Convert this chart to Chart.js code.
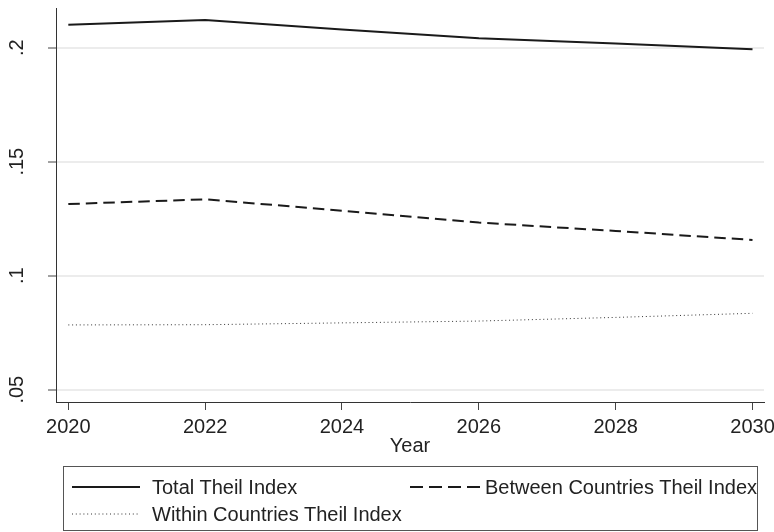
<!DOCTYPE html>
<html>
<head>
<meta charset="utf-8">
<script src="https://cdn.jsdelivr.net/npm/chart.js@4.4.1/dist/chart.umd.min.js"></script>
<style>
  body { margin: 0; background: #fff; }
  #wrap { position: relative; width: 774px; height: 532px; }
  #theil-legend {
    position: absolute; left: 63px; top: 466px; width: 695px; height: 65px;
    border: 1px solid #555; box-sizing: border-box;
    font-family: "Liberation Sans", Arial, sans-serif; font-size: 20px; color: #222;
  }
  .legend-item { position: absolute; display: flex; align-items: center; height: 24px; white-space: nowrap; }
  .legend-item svg { display: block; }
</style>
</head>
<body>
<div id="wrap">
  <canvas id="theil-chart" width="774" height="532"></canvas>
  <div id="theil-legend"></div>
</div>
<script>
const years = [2020, 2022, 2024, 2026, 2028, 2030];
const totalTheil = [0.2101, 0.2121, 0.2080, 0.2041, 0.2018, 0.1993];
const betweenTheil = [0.1314, 0.1335, 0.1285, 0.1233, 0.1196, 0.1157];
const withinTheil = [0.0784, 0.0785, 0.0793, 0.0801, 0.0817, 0.0835];
const seriesLabels = ['Total Theil Index', 'Between Countries Theil Index', 'Within Countries Theil Index'];

const FONT = '"Liberation Sans", Arial, sans-serif';
const INK = '#222';

const toPoints = (vals) => vals.map((v, i) => ({ x: years[i], y: v }));

const ctx = document.getElementById('theil-chart').getContext('2d');

const theilChart = new Chart(ctx, {
    type: 'line',
    data: {
        datasets: [
            { label: seriesLabels[0], data: toPoints(totalTheil), borderColor: '#1a1a1a', borderWidth: 2, borderDash: [] },
            { label: seriesLabels[1], data: toPoints(betweenTheil), borderColor: '#1a1a1a', borderWidth: 2, borderDash: [11.5, 6] },
            { label: seriesLabels[2], data: toPoints(withinTheil), borderColor: '#333', borderWidth: 1, borderDash: [1, 2.8] }
        ]
    },
    options: {
        responsive: false,
        animation: false,
        layout: { padding: { top: 8, right: 10, bottom: 0, left: 0 } },
        elements: { point: { radius: 0 }, line: { tension: 0 } },
        plugins: { legend: { display: false }, tooltip: { enabled: false } },
        scales: {
            x: {
                type: 'linear',
                min: 2019.82,
                max: 2030.168,
                border: { color: '#333', width: 1 },
                grid: { drawOnChartArea: false, tickLength: 8, tickColor: '#444', tickWidth: 1 },
                ticks: {
                    stepSize: 2,
                    includeBounds: false,
                    padding: 5,
                    color: INK,
                    font: { family: FONT, size: 20 },
                    callback: (v) => String(v)
                },
                title: {
                    display: true,
                    text: 'Year',
                    color: INK,
                    font: { family: FONT, size: 20 },
                    padding: { top: 0, bottom: 74 }
                },
                afterFit: (scale) => {
                    scale.height = 130;
                    scale.paddingLeft = 0;
                    scale.paddingRight = 0;
                }
            },
            y: {
                min: 0.0446,
                max: 0.2174,
                border: { color: '#333', width: 1 },
                grid: { color: '#ececec', lineWidth: 2, tickLength: 8, tickColor: '#444', tickWidth: 1 },
                ticks: {
                    stepSize: 0.05,
                    includeBounds: false,
                    minRotation: 90, // y labels read bottom to top
                    maxRotation: 90,
                    crossAlign: 'center',
                    padding: 16.6,
                    color: INK,
                    font: { family: FONT, size: 20 },
                    callback: (v) => String(Math.round(v * 100) / 100).replace(/^0/, '')
                },
                afterFit: (scale) => {
                    scale.width = 56;
                    scale.paddingTop = 0;
                    scale.paddingBottom = 0;
                }
            }
        }
    }
});

// legend built by hand, Stata style two-column box
const legendBox = document.getElementById('theil-legend');
const legendSlots = [
    { left: 8, top: 8, sample: 68, gap: 12, dash: 'none' },
    { left: 346, top: 8, sample: 72, gap: 3, dash: '13 6' },
    { left: 8, top: 35, sample: 68, gap: 12, dash: '1 2.8' }
];

theilChart.data.datasets.forEach((ds, index) => {
    const slot = legendSlots[index];
    const item = document.createElement('div');
    item.classList.add('legend-item');
    item.style.left = slot.left + 'px';
    item.style.top = slot.top + 'px';
    item.innerHTML =
        `<svg width="${slot.sample}" height="6" style="margin-right:${slot.gap}px">` +
        `<line x1="0" y1="3" x2="${slot.sample}" y2="3" stroke="${ds.borderColor}" stroke-width="${ds.borderWidth}" stroke-dasharray="${slot.dash}"/></svg>` +
        `<span>${ds.label}</span>`;
    legendBox.appendChild(item);
});
</script>
</body>
</html>
